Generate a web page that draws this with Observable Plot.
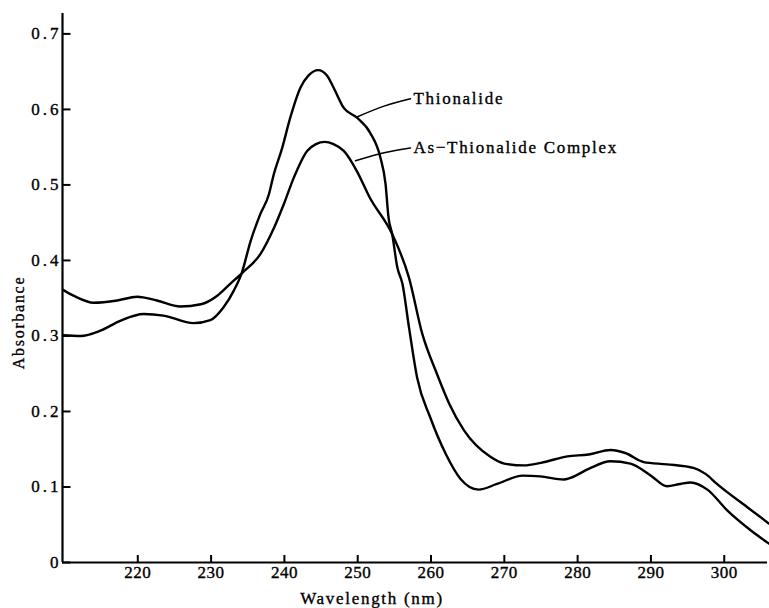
<!DOCTYPE html>
<html>
<head>
<meta charset="utf-8">
<script src="https://cdn.jsdelivr.net/npm/d3@7"></script>
<script src="https://cdn.jsdelivr.net/npm/@observablehq/plot@0.6"></script>
<style>
  html, body { margin: 0; padding: 0; background: white; }
  svg text { letter-spacing: 1.7px; stroke: black; stroke-width: 0.35px; }
  g[aria-label="y-axis tick label"] text { letter-spacing: 3px; }
  g[aria-label="x-axis tick label"] text { letter-spacing: 0.5px; }
</style>
</head>
<body>
<div id="chart"></div>
<script>
// Thionalide spectrum
const wlThio = [209.8, 212.2, 214.9, 217.6, 220.8, 223.5, 227.6, 229.9, 231.7, 233.1, 234.2, 235.4, 236.7, 237.9, 238.5, 239.7, 240.8, 242.2, 243.3, 244.6, 245.8, 246.7, 248.1, 249.9, 251.7, 253.1, 253.8, 254.2, 254.7, 255.4, 256.1, 257.0, 258.1, 259.9, 262.0, 264.0, 266.5, 269.0, 272.5, 274.9, 278.1, 279.0, 281.5, 284.5, 287.2, 290.0, 292.2, 294.0, 295.4, 297.7, 300.4, 303.6, 306.1];
const absThio = [0.301, 0.300, 0.307, 0.320, 0.329, 0.327, 0.317, 0.321, 0.338, 0.360, 0.384, 0.426, 0.461, 0.488, 0.512, 0.549, 0.589, 0.629, 0.645, 0.652, 0.645, 0.629, 0.602, 0.589, 0.569, 0.536, 0.501, 0.457, 0.435, 0.391, 0.369, 0.311, 0.245, 0.192, 0.144, 0.111, 0.0965, 0.104, 0.115, 0.114, 0.110, 0.112, 0.124, 0.134, 0.131, 0.115, 0.101, 0.104, 0.106, 0.0965, 0.069, 0.0427, 0.025];

// As-Thionalide complex spectrum
const wlComplex = [209.8, 211.3, 214.0, 217.2, 219.9, 222.6, 225.8, 228.6, 230.8, 232.6, 234.3, 236.7, 238.6, 239.9, 241.3, 243.1, 244.3, 245.5, 246.7, 248.1, 249.9, 251.6, 254.7, 257.0, 258.8, 260.8, 262.5, 264.5, 268.1, 270.0, 272.7, 275.0, 278.6, 281.5, 284.5, 286.5, 289.0, 292.2, 295.9, 297.5, 299.0, 303.1, 306.1];
const absComplex = [0.361, 0.353, 0.344, 0.347, 0.352, 0.347, 0.339, 0.342, 0.353, 0.369, 0.384, 0.408, 0.4435, 0.474, 0.510, 0.545, 0.554, 0.557, 0.554, 0.545, 0.518, 0.484, 0.435, 0.377, 0.303, 0.250, 0.210, 0.175, 0.140, 0.131, 0.1286, 0.132, 0.1405, 0.143, 0.149, 0.145, 0.133, 0.130, 0.125, 0.117, 0.104, 0.0735, 0.0515];

const seriesNames = ["Thionalide", "As\u2212Thionalide Complex"];
// leader lines (wavelength, absorbance) from curve to label
const leaderWl = [[249.9, 253.6, 257.2], [249.7, 253.6, 257.2]];
const leaderAbs = [[0.590, 0.6043, 0.614], [0.532, 0.5426, 0.549]];

const xTicks = [220, 230, 240, 250, 260, 270, 280, 290, 300];
const yTicks = [0, 0.1, 0.2, 0.3, 0.4, 0.5, 0.6, 0.7];
const xDomain = [209.73, 305.9];
const yDomain = [0, 0.727];
const xLabel = "Wavelength (nm)";
const yLabel = "Absorbance";

const thio = wlThio.map((w, i) => ({wl: w, a: absThio[i]}));
const complex = wlComplex.map((w, i) => ({wl: w, a: absComplex[i]}));
const leaders = leaderWl.flatMap((ws, k) => ws.map((w, i) => ({wl: w, a: leaderAbs[k][i], s: seriesNames[k]})));
const labels = seriesNames.map((s, k) => ({s, wl: leaderWl[k][2], a: leaderAbs[k][2]}));

const W = 769, H = 608, mL = 62, mR = 2, mT = 13, mB = 46;
const frameW = W - mL - mR, frameH = H - mT - mB;

const chart = Plot.plot({
  width: W,
  height: H,
  marginLeft: mL,
  marginRight: mR,
  marginTop: mT,
  marginBottom: mB,
  style: {fontFamily: "'Liberation Serif', 'DejaVu Serif', serif", fontSize: "17px", background: "white", color: "black"},
  x: {domain: xDomain},
  y: {domain: yDomain},
  marks: [
    Plot.axisX({ticks: xTicks, tickSize: 0, tickPadding: 3, tickFormat: d => String(d), label: null, fontSize: 17}),
    Plot.axisY({ticks: yTicks, tickSize: 0, tickPadding: 1, tickFormat: d => d === 0 ? "0" : d.toFixed(1), label: null, fontSize: 17}),
    // inward tick marks
    Plot.ruleX(xTicks, {stroke: "black", strokeWidth: 2, insetTop: frameH - 7}),
    Plot.ruleY(yTicks, {stroke: "black", strokeWidth: 2, insetRight: frameW - 8.5}),
    // axis lines
    Plot.ruleX([xDomain[0]], {stroke: "black", strokeWidth: 2.2}),
    Plot.ruleY([yDomain[0]], {stroke: "black", strokeWidth: 2.2}),
    Plot.line(thio, {x: "wl", y: "a", stroke: "black", strokeWidth: 2.4, curve: "monotone-x"}),
    Plot.line(complex, {x: "wl", y: "a", stroke: "black", strokeWidth: 2.4, curve: "monotone-x"}),
    Plot.line(leaders, {x: "wl", y: "a", z: "s", stroke: "black", strokeWidth: 1.5, curve: "natural"}),
    Plot.text(labels, {x: "wl", y: "a", text: "s", textAnchor: "start", dx: 3, fontSize: 17}),
    Plot.text([xLabel], {frameAnchor: "bottom", textAnchor: "middle", dx: -43, dy: 41, fontSize: 17}),
    Plot.text([yLabel], {frameAnchor: "left", textAnchor: "middle", rotate: -90, dx: -44, dy: 34.5, fontSize: 16})
  ]
});
document.getElementById("chart").appendChild(chart);
</script>
</body>
</html>
